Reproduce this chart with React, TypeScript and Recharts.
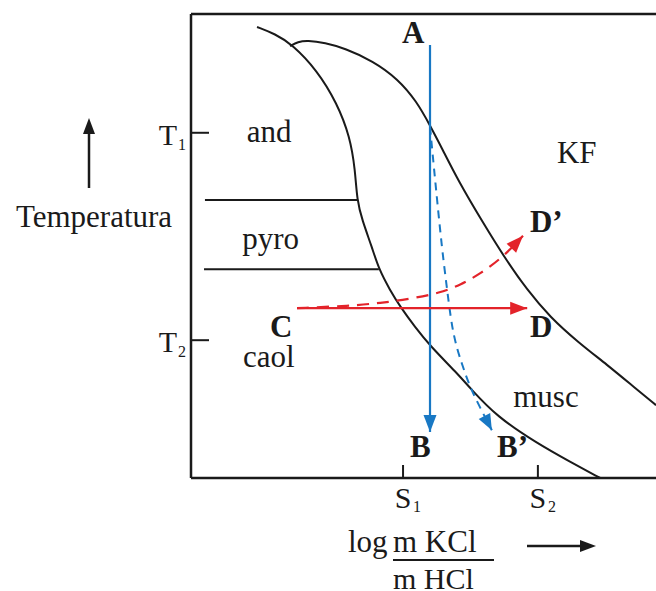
import React from 'react';
import { LineChart, Line, XAxis, YAxis, ReferenceLine, ReferenceDot } from 'recharts';

// Phase boundaries (x: log mKCl/mHCl units, y: temperature units)
const innerBoundary = [
  { x: 1.42, y: 9.72 }, { x: 1.81, y: 9.57 }, { x: 2.17, y: 9.35 }, { x: 2.71, y: 8.79 },
  { x: 3.14, y: 8.08 }, { x: 3.42, y: 7.35 }, { x: 3.53, y: 6.64 }, { x: 3.57, y: 5.99 },
  { x: 3.68, y: 5.56 }, { x: 3.89, y: 4.98 }, { x: 4.04, y: 4.5 }, { x: 4.28, y: 4.05 },
  { x: 4.5, y: 3.69 }, { x: 4.82, y: 3.25 }, { x: 5.14, y: 2.85 }, { x: 5.72, y: 2.26 },
  { x: 6.0, y: 1.94 }, { x: 6.58, y: 1.32 }, { x: 7.44, y: 0.75 }, { x: 8.15, y: 0.35 },
  { x: 8.8, y: 0.0 },
];
const outerBoundary = [
  { x: 2.13, y: 9.31 }, { x: 2.3, y: 9.4 }, { x: 2.5, y: 9.43 }, { x: 2.88, y: 9.38 },
  { x: 3.31, y: 9.26 }, { x: 3.91, y: 8.99 }, { x: 4.45, y: 8.6 }, { x: 4.85, y: 8.12 },
  { x: 5.14, y: 7.6 }, { x: 5.4, y: 7.1 }, { x: 5.74, y: 6.42 }, { x: 6.28, y: 5.5 },
  { x: 6.75, y: 4.74 }, { x: 7.23, y: 4.05 }, { x: 7.72, y: 3.47 }, { x: 8.32, y: 2.93 },
  { x: 8.95, y: 2.44 }, { x: 9.55, y: 1.94 }, { x: 10, y: 1.57 },
];
const pyroUpper = [{ x: 0.3, y: 5.99 }, { x: 3.57, y: 5.99 }];
const pyroLower = [{ x: 0.28, y: 4.5 }, { x: 4.04, y: 4.5 }];

// Paths
const pathAB = [{ x: 5.14, y: 9.33 }, { x: 5.14, y: 0.99 }];
const pathAB2 = [
  { x: 5.14, y: 7.57 }, { x: 5.25, y: 6.42 }, { x: 5.4, y: 4.91 }, { x: 5.51, y: 4.05 },
  { x: 5.63, y: 3.08 }, { x: 5.83, y: 2.44 }, { x: 6.0, y: 1.96 }, { x: 6.22, y: 1.51 },
  { x: 6.47, y: 1.03 },
];
const pathCD = [{ x: 2.28, y: 3.66 }, { x: 7.23, y: 3.66 }];
const pathCD2 = [
  { x: 2.28, y: 3.66 }, { x: 3.42, y: 3.71 }, { x: 4.07, y: 3.77 }, { x: 4.71, y: 3.86 },
  { x: 5.36, y: 3.99 }, { x: 5.79, y: 4.16 }, { x: 6.22, y: 4.4 }, { x: 6.71, y: 4.76 },
  { x: 7.14, y: 5.22 },
];

// Ticks
const xTicks = [{ value: 4.56, base: 'S', sub: '1' }, { value: 7.46, base: 'S', sub: '2' }];
const yTicks = [{ value: 2.97, base: 'T', sub: '2' }, { value: 7.44, base: 'T', sub: '1' }];

// Region / point labels
const labels = [
  { text: 'A', x: 4.54, y: 9.37, bold: true },
  { text: 'B', x: 4.71, y: 0.45, bold: true },
  { text: 'B\u2019', x: 6.58, y: 0.45, bold: true },
  { text: 'C', x: 1.7, y: 3.04, bold: true },
  { text: 'D', x: 7.29, y: 3.04, bold: true },
  { text: 'D\u2019', x: 7.29, y: 5.3, bold: true },
  { text: 'KF', x: 7.87, y: 6.79, bold: false },
  { text: 'and', x: 1.2, y: 7.24, bold: false },
  { text: 'pyro', x: 1.1, y: 4.94, bold: false },
  { text: 'caol', x: 1.12, y: 2.39, bold: false },
  { text: 'musc', x: 6.93, y: 1.53, bold: false },
];

const FONT = '"Liberation Serif", "Times New Roman", serif';
const BLACK = '#1a1a1a';
const BLUE = '#1878c4';
const RED = '#e3232a';

const makeArrow = (color: string, len: number, half: number) => (p: any) => {
  const pts = p.points || [];
  if (p.index !== pts.length - 1 || pts.length < 2) return <g key={p.key} />;
  const prev = pts[p.index - 1];
  const ang = Math.atan2(p.cy - prev.y, p.cx - prev.x);
  const bx = p.cx - len * Math.cos(ang);
  const by = p.cy - len * Math.sin(ang);
  const nx = -Math.sin(ang) * half;
  const ny = Math.cos(ang) * half;
  return (
    <polygon
      key={p.key}
      points={`${p.cx},${p.cy} ${bx + nx},${by + ny} ${bx - nx},${by - ny}`}
      fill={color}
      stroke="none"
    />
  );
};

const XTick = (props: any) => {
  const { x, y, payload } = props;
  const t = xTicks.find((d) => Math.abs(d.value - payload.value) < 1e-6);
  return (
    <g>
      <line x1={x} y1={y} x2={x} y2={y - 13} stroke={BLACK} strokeWidth={2} />
      <text x={x} y={y + 30} textAnchor="middle" fontFamily={FONT} fontSize={30} fill={BLACK}>
        {t ? t.base : ''}
      </text>
      <text x={x + 10} y={y + 34} textAnchor="start" fontFamily={FONT} fontSize={16} fill={BLACK}>
        {t ? t.sub : ''}
      </text>
    </g>
  );
};

const YTick = (props: any) => {
  const { x, y, payload } = props;
  const t = yTicks.find((d) => Math.abs(d.value - payload.value) < 1e-6);
  return (
    <g>
      <line x1={x} y1={y} x2={x + 18} y2={y} stroke={BLACK} strokeWidth={2} />
      <text x={x - 14} y={y + 12} textAnchor="end" fontFamily={FONT} fontSize={30} fill={BLACK}>
        {t ? t.base : ''}
      </text>
      <text x={x - 13} y={y + 17} textAnchor="start" fontFamily={FONT} fontSize={16} fill={BLACK}>
        {t ? t.sub : ''}
      </text>
    </g>
  );
};

const YLabel = (props: any) => {
  const vb = props.viewBox || { x: 0, y: 14 };
  const ax = vb.x + 89;
  return (
    <g>
      <line x1={ax} y1={vb.y + 174} x2={ax} y2={vb.y + 116} stroke={BLACK} strokeWidth={2.5} />
      <polygon points={`${ax},${vb.y + 104} ${ax - 6},${vb.y + 120} ${ax + 6},${vb.y + 120}`} fill={BLACK} />
      <text x={vb.x + 94} y={vb.y + 213} textAnchor="middle" fontFamily={FONT} fontSize={31} fill={BLACK}>
        Temperatura
      </text>
    </g>
  );
};

const XLabel = (props: any) => {
  const vb = props.viewBox || { x: 191, y: 478 };
  const ox = vb.x;
  const oy = vb.y;
  return (
    <g fontFamily={FONT} fill={BLACK}>
      <text x={ox + 157} y={oy + 74} fontSize={31}>log</text>
      <text x={ox + 202} y={oy + 74} fontSize={31}>m KCl</text>
      <line x1={ox + 202} y1={oy + 82} x2={ox + 303} y2={oy + 82} stroke={BLACK} strokeWidth={2} />
      <text x={ox + 202} y={oy + 111} fontSize={30}>m HCl</text>
      <line x1={ox + 336} y1={oy + 68} x2={ox + 392} y2={oy + 68} stroke={BLACK} strokeWidth={2.5} />
      <polygon points={`${ox + 405},${oy + 68} ${ox + 389},${oy + 62} ${ox + 389},${oy + 74}`} fill={BLACK} />
    </g>
  );
};

const TextMark = (bold: boolean, text: string) => (p: any) => (
  <text
    x={p.cx}
    y={p.cy}
    textAnchor="start"
    fontFamily={FONT}
    fontSize={31}
    fontWeight={bold ? 'bold' : 'normal'}
    fill={BLACK}
  >
    {text}
  </text>
);

export default function App() {
  return (
    <div style={{ position: 'absolute', left: 0, top: 0, background: '#fff' }}>
      <LineChart width={656} height={591} margin={{ top: 14, right: 0, left: 0, bottom: 0 }}>
        <XAxis
          type="number"
          dataKey="x"
          domain={[0, 10]}
          ticks={xTicks.map((d) => d.value)}
          interval={0}
          height={113}
          tickSize={0}
          tickMargin={0}
          tickLine={false}
          axisLine={{ stroke: BLACK, strokeWidth: 2.5 }}
          tick={<XTick />}
          allowDataOverflow
          label={{ content: <XLabel /> }}
        />
        <YAxis
          type="number"
          dataKey="y"
          domain={[0, 10]}
          ticks={yTicks.map((d) => d.value)}
          interval={0}
          width={191}
          tickSize={0}
          tickMargin={0}
          tickLine={false}
          axisLine={{ stroke: BLACK, strokeWidth: 2.5 }}
          tick={<YTick />}
          allowDataOverflow
          label={{ content: <YLabel /> }}
        />
        <ReferenceLine y={10} stroke={BLACK} strokeWidth={2.5} />

        <Line data={innerBoundary} dataKey="y" type="basis" stroke={BLACK} strokeWidth={2} dot={false} activeDot={false} isAnimationActive={false} />
        <Line data={outerBoundary} dataKey="y" type="basis" stroke={BLACK} strokeWidth={2} dot={false} activeDot={false} isAnimationActive={false} />
        <Line data={pyroUpper} dataKey="y" type="linear" stroke={BLACK} strokeWidth={2} dot={false} activeDot={false} isAnimationActive={false} />
        <Line data={pyroLower} dataKey="y" type="linear" stroke={BLACK} strokeWidth={2} dot={false} activeDot={false} isAnimationActive={false} />

        <Line data={pathAB} dataKey="y" type="linear" stroke={BLUE} strokeWidth={2.2} dot={makeArrow(BLUE, 17, 6.5)} activeDot={false} isAnimationActive={false} />
        <Line data={pathAB2} dataKey="y" type="basis" stroke={BLUE} strokeWidth={2} strokeDasharray="8 6" dot={makeArrow(BLUE, 16, 6.5)} activeDot={false} isAnimationActive={false} />
        <Line data={pathCD} dataKey="y" type="linear" stroke={RED} strokeWidth={2.2} dot={makeArrow(RED, 17, 6.5)} activeDot={false} isAnimationActive={false} />
        <Line data={pathCD2} dataKey="y" type="basis" stroke={RED} strokeWidth={2.2} strokeDasharray="12 8" dot={makeArrow(RED, 17, 6.5)} activeDot={false} isAnimationActive={false} />

        {labels.map((l) => (
          <ReferenceDot key={l.text} x={l.x} y={l.y} r={0} ifOverflow="visible" shape={TextMark(l.bold, l.text)} />
        ))}
      </LineChart>
    </div>
  );
}
